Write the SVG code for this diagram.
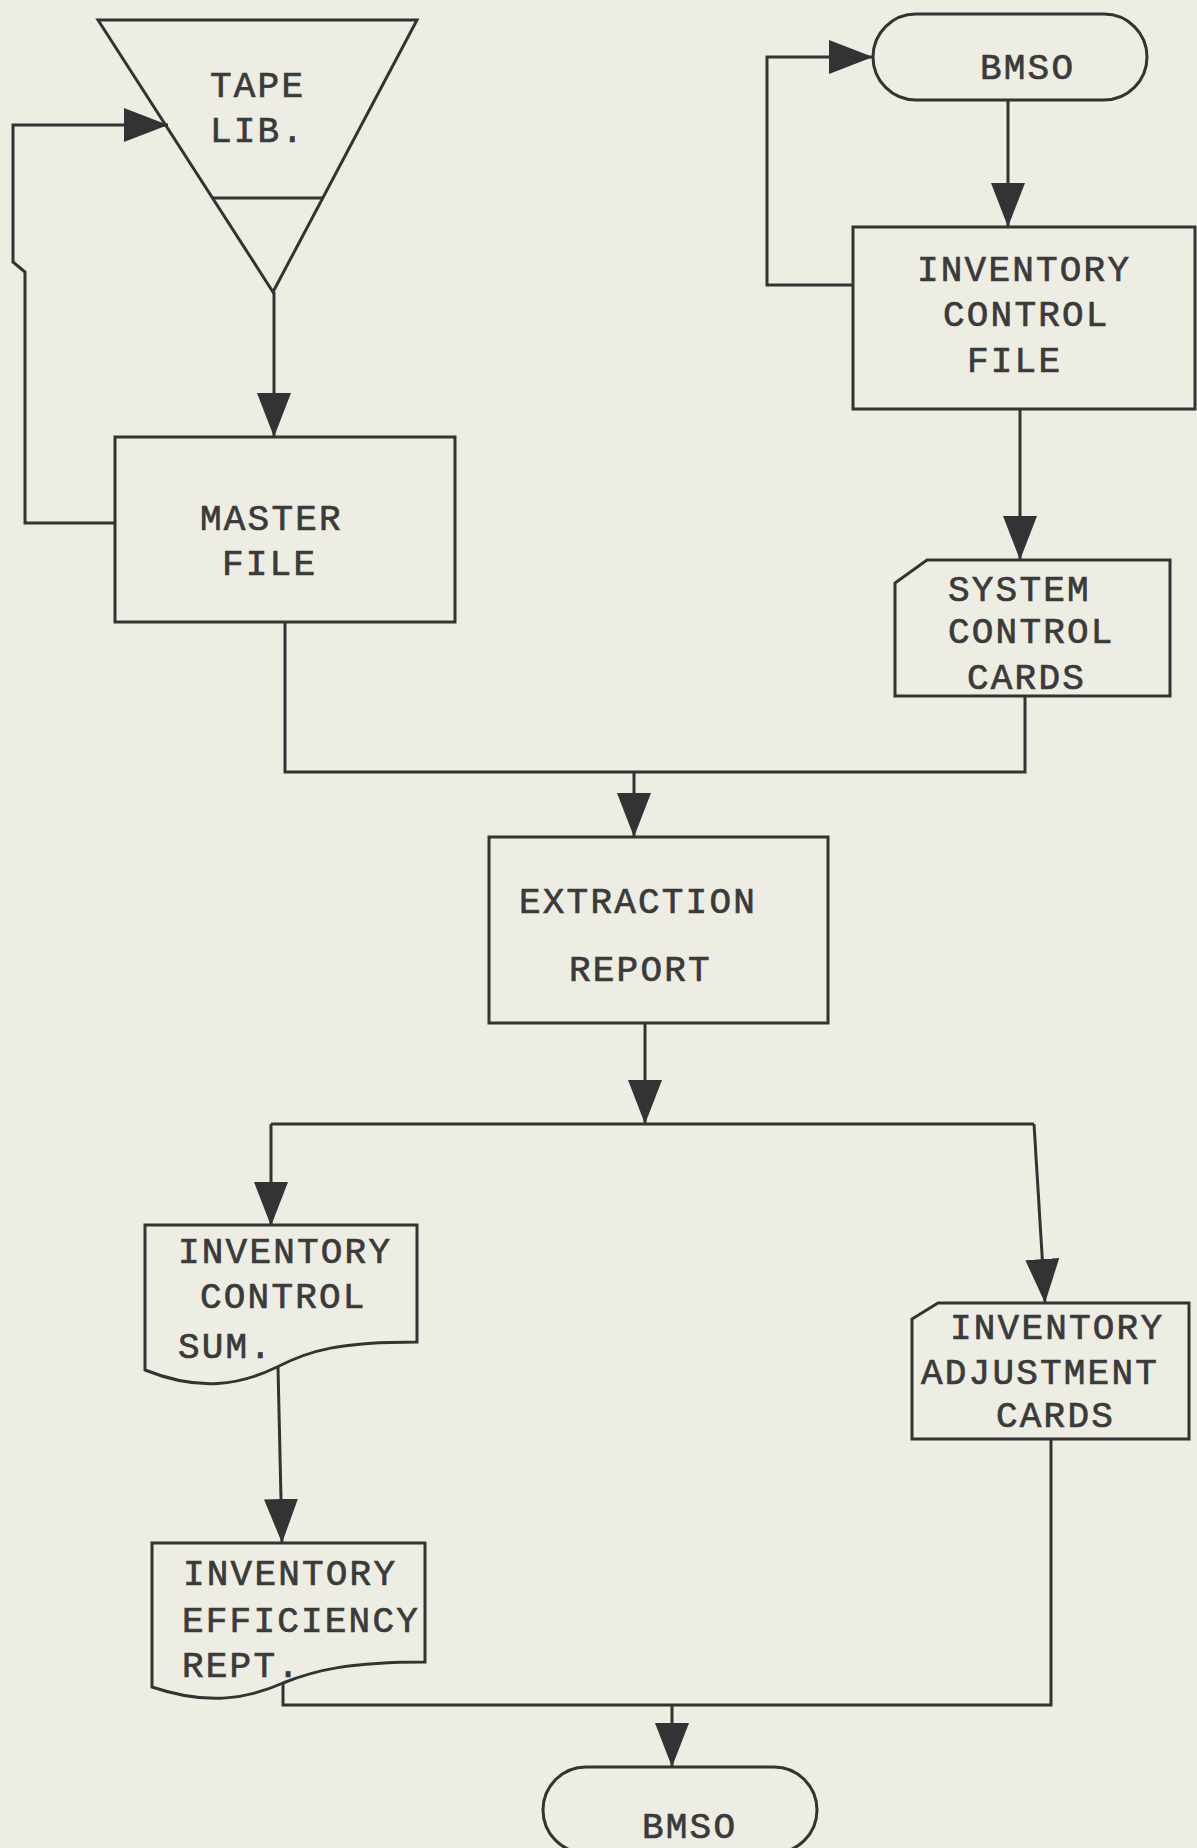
<svg xmlns="http://www.w3.org/2000/svg" width="1197" height="1848" viewBox="0 0 1197 1848">
<style>
.bg{fill:#eeede4}
.shape{fill:none;stroke:#333;stroke-width:3;stroke-linejoin:miter}
.conn{fill:none;stroke:#333;stroke-width:3}
.t{font-family:"Liberation Mono",monospace;font-size:36px;letter-spacing:2.2px;fill:#3a3a3a;stroke:#3a3a3a;stroke-width:0.7px}
</style>
<defs>
<marker id="arr" viewBox="0 0 44 34" refX="44" refY="17" markerWidth="44" markerHeight="34" markerUnits="userSpaceOnUse" orient="auto">
<path d="M0,0 L44,17 L0,34 Z" fill="#333"/>
</marker>
</defs>
<rect class="bg" x="0" y="0" width="1197" height="1848"/>

<g id="connectors">
<path class="conn" d="M274,292 V437" marker-end="url(#arr)"/>
<path class="conn" d="M115,523 H25 V272 L13,262 V125 H168" marker-end="url(#arr)"/>
<path class="conn" d="M1008,100 V227" marker-end="url(#arr)"/>
<path class="conn" d="M853,285 H767 V57 H873" marker-end="url(#arr)"/>
<path class="conn" d="M1020,409 V560" marker-end="url(#arr)"/>
<path class="conn" d="M285,622 V772 H1025 V696"/>
<path class="conn" d="M634,772 V837" marker-end="url(#arr)"/>
<path class="conn" d="M645,1023 V1124" marker-end="url(#arr)"/>
<path class="conn" d="M271,1124 H1034"/>
<path class="conn" d="M271,1124 V1226" marker-end="url(#arr)"/>
<path class="conn" d="M1034,1124 L1045,1303" marker-end="url(#arr)"/>
<path class="conn" d="M278,1367 L282,1543" marker-end="url(#arr)"/>
<path class="conn" d="M283,1683 V1705 H1051 V1439"/>
<path class="conn" d="M672,1705 V1767" marker-end="url(#arr)"/>
</g>

<g id="tape-lib">
<polygon class="shape" points="98,20 417,20 273,292"/>
<line class="shape" x1="212" y1="198" x2="323" y2="198"/>
<text class="t" x="210" y="97">TAPE</text>
<text class="t" x="210" y="142">LIB.</text>
</g>

<g id="master-file">
<rect class="shape" x="115" y="437" width="340" height="185"/>
<text class="t" x="200" y="530">MASTER</text>
<text class="t" x="222" y="575">FILE</text>
</g>

<g id="bmso-top">
<rect class="shape" x="873" y="14" width="274" height="86" rx="43" ry="43"/>
<text class="t" x="980" y="79">BMSO</text>
</g>

<g id="inventory-control-file">
<rect class="shape" x="853" y="227" width="342" height="182"/>
<text class="t" x="917" y="281">INVENTORY</text>
<text class="t" x="943" y="326">CONTROL</text>
<text class="t" x="967" y="372">FILE</text>
</g>

<g id="system-control-cards">
<path class="shape" d="M927,560 H1170 V696 H895 V583 Z"/>
<text class="t" x="948" y="601">SYSTEM</text>
<text class="t" x="948" y="643">CONTROL</text>
<text class="t" x="967" y="689">CARDS</text>
</g>

<g id="extraction-report">
<rect class="shape" x="489" y="837" width="339" height="186"/>
<text class="t" x="519" y="913">EXTRACTION</text>
<text class="t" x="569" y="981">REPORT</text>
</g>

<g id="inventory-control-sum">
<path class="shape" d="M145,1225 H417 V1342 C340,1342 310,1350 277,1367 C240,1385 200,1392 145,1370 Z"/>
<text class="t" x="178" y="1263">INVENTORY</text>
<text class="t" x="200" y="1308">CONTROL</text>
<text class="t" x="178" y="1358">SUM.</text>
</g>

<g id="inventory-efficiency-rept">
<path class="shape" d="M152,1543 H425 V1662 C350,1662 315,1670 283,1683 C245,1700 205,1705 152,1687 Z"/>
<text class="t" x="183" y="1585">INVENTORY</text>
<text class="t" x="182" y="1632">EFFICIENCY</text>
<text class="t" x="182" y="1677">REPT.</text>
</g>

<g id="inventory-adjustment-cards">
<path class="shape" d="M938,1303 H1189 V1439 H912 V1319 Z"/>
<text class="t" x="950" y="1339">INVENTORY</text>
<text class="t" x="921" y="1384">ADJUSTMENT</text>
<text class="t" x="996" y="1427">CARDS</text>
</g>

<g id="bmso-bottom">
<rect class="shape" x="543" y="1767" width="274" height="86" rx="43" ry="43"/>
<text class="t" x="642" y="1838">BMSO</text>
</g>
</svg>
